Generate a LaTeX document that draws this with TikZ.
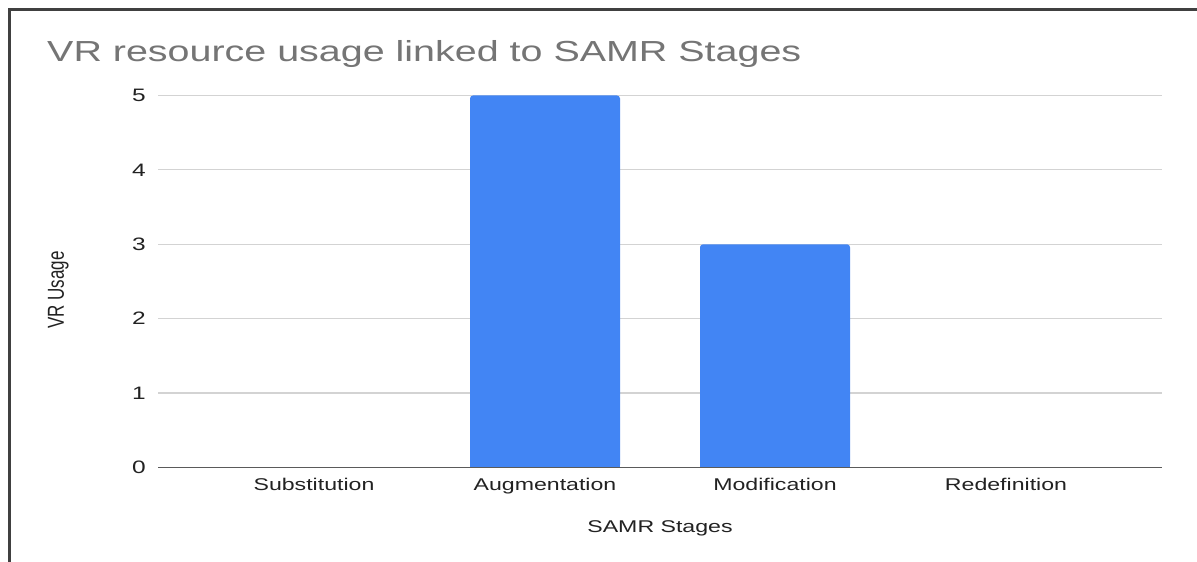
\documentclass[tikz,border=0pt]{standalone}
\usepackage{fontspec}
\usepackage{graphicx}
\setmainfont{Liberation Sans}[FakeStretch=1.36]
\newfontfamily\uprightlabel{Liberation Sans}
\definecolor{framegray}{HTML}{404040}
\definecolor{gridgray}{HTML}{D3D3D3}
\definecolor{axisgray}{HTML}{5A5A5A}
\definecolor{titlegray}{HTML}{757575}
\definecolor{inkgray}{HTML}{222222}
\definecolor{barblue}{HTML}{4285F4}
\tikzset{
  frameline/.style={draw=framegray, line width=2.4pt},
  gridline/.style={draw=gridgray, line width=1.2pt},
  axisline/.style={draw=axisgray, line width=1.6pt},
  ticklabel/.style={inner sep=0pt, anchor=east, text=inkgray, font=\fontsize{18}{20}\selectfont},
  catlabel/.style={inner sep=0pt, anchor=base, text=inkgray, font=\fontsize{17}{19}\selectfont},
  charttitle/.style={inner sep=0pt, anchor=base west, text=titlegray, font=\fontsize{29}{32}\selectfont},
  bar/.style={fill=barblue}
}
\begin{document}
\begin{tikzpicture}[x=1pt,y=1pt]
\useasboundingbox (0,0) rectangle (1197,562);
\fill[white] (0,0) rectangle (1197,562);

% outer frame (left and top edges)
\draw[frameline] (9.5,0) -- (9.5,552.3) -- (1197,552.3);

% title
\node[charttitle] (title) at (47,500) {VR resource usage linked to SAMR Stages};

% value area: y in data units
\begin{scope}[shift={(0,94.5)}, y=74.4pt]
  \foreach \v in {1,...,5} {
    \draw[gridline] (158,\v) -- (1162,\v);
  }
  \foreach \v in {0,...,5} {
    \node[ticklabel] (tick\v) at (146,\v) {\v};
  }
  % bars
  \fill[bar, rounded corners=3pt] (470,0) rectangle (620,5);
  \fill[bar] (470,0) rectangle (620,2.5);
  \fill[bar, rounded corners=3pt] (700,0) rectangle (850,3);
  \fill[bar] (700,0) rectangle (850,1.5);
  % zero axis
  \draw[axisline] (158,0) -- (1162,0);
\end{scope}

% category labels
\node[catlabel] (substitution) at (314,71.3) {Substitution};
\node[catlabel] (augmentation) at (545,71.3) {Augmentation};
\node[catlabel] (modification) at (775,71.3) {Modification};
\node[catlabel] (redefinition) at (1006,71.3) {Redefinition};

% axis titles
\node[catlabel] (xtitle) at (660,29) {SAMR Stages};
\node[inner sep=0pt, anchor=base, rotate=90, text=inkgray] (ytitle) at (64,272)
  {\scalebox{1}[1.36]{\uprightlabel\fontsize{17}{19}\selectfont VR Usage}};
\end{tikzpicture}
\end{document}
